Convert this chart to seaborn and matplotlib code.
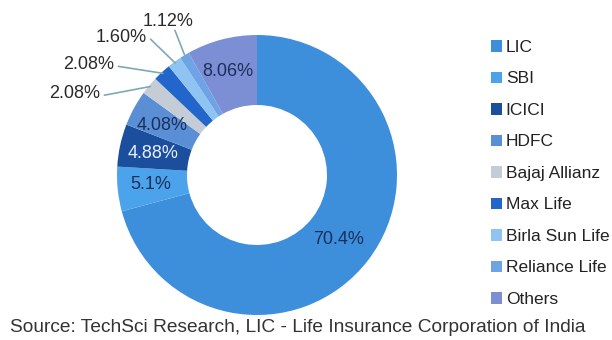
import numpy as np
import matplotlib
matplotlib.use("Agg")
import matplotlib.pyplot as plt
import seaborn as sns

companies = ["LIC", "SBI", "ICICI", "HDFC", "Bajaj Allianz", "Max Life",
             "Birla Sun Life", "Reliance Life", "Others"]
shares = [70.4, 5.1, 4.88, 4.08, 2.08, 2.08, 1.60, 1.12, 8.06]
share_labels = ["70.4%", "5.1%", "4.88%", "4.08%", "2.08%", "2.08%", "1.60%", "1.12%", "8.06%"]
colors = ["#3d8fdc", "#4ba3ec", "#1b4f9e", "#5a8fd6", "#c4ccd6", "#2266cc",
          "#8ec3f2", "#6ea3e6", "#7d8fd4"]

sns.set_theme(style="white")
plt.rcParams['font.family'] = ['Liberation Sans', 'DejaVu Sans']

fig = plt.figure(figsize=(6.12, 3.4), dpi=100)
fig.patch.set_facecolor("white")
ax = fig.add_axes([117/612, 25/340, 280/612, 280/340])
palette = sns.color_palette(colors)

wedges, _ = ax.pie(shares, colors=palette, startangle=90, counterclock=False,
                   radius=1.0, wedgeprops=dict(width=0.5, linewidth=0))
ax.set_xlim(-1, 1)
ax.set_ylim(-1, 1)
ax.set_aspect("equal")
ax.axis("off")

# inside labels: (x, y, color)
inside = {
    0: (0.58, -0.46, "#1b2f5a"),
    1: (-0.76, -0.07, "#1b2f5a"),
    2: (-0.74, 0.157, "#e8f0ff"),
    3: (-0.68, 0.357, "#1b2f5a"),
    8: (-0.207, 0.736, "#1b2f5a"),
}
for i, (x, y, c) in inside.items():
    ax.text(x, y, share_labels[i], ha="center", va="center", fontsize=13, color=c)

# outside labels with leader lines
outside = {
    4: (-1.30, 0.58),
    5: (-1.20, 0.786),
    6: (-0.97, 0.98),
    7: (-0.636, 1.093),
}
for i, (x, y) in outside.items():
    w = wedges[i]
    mid = np.deg2rad((w.theta1 + w.theta2) / 2)
    ex, ey = 0.99 * np.cos(mid), 0.99 * np.sin(mid)
    ax.text(x, y, share_labels[i], ha="center", va="center", fontsize=13,
            color="#2a2a2a", clip_on=False)
    if i == 7:
        sx, sy = x + 0.05, y - 0.06
    else:
        sx, sy = x + 0.21, y - 0.01
    ax.plot([sx, ex], [sy, ey], color="#7fa8b6", lw=1.2, clip_on=False)

leg = fig.legend(wedges, companies, loc="upper left", bbox_to_anchor=(484/612, 1 - 33/340),
                 frameon=False, fontsize=12.5, handlelength=0.65, handleheight=0.65,
                 handletextpad=0.2, labelspacing=0.95, borderaxespad=0)
for txt in leg.get_texts():
    txt.set_color("#222222")

fig.text(10/612, 1 - 328/340, "Source: TechSci Research, LIC - Life Insurance Corporation of India",
         ha="left", va="center", fontsize=13.8, color="#333333")

fig.savefig("out.png", dpi=100, facecolor="white")
